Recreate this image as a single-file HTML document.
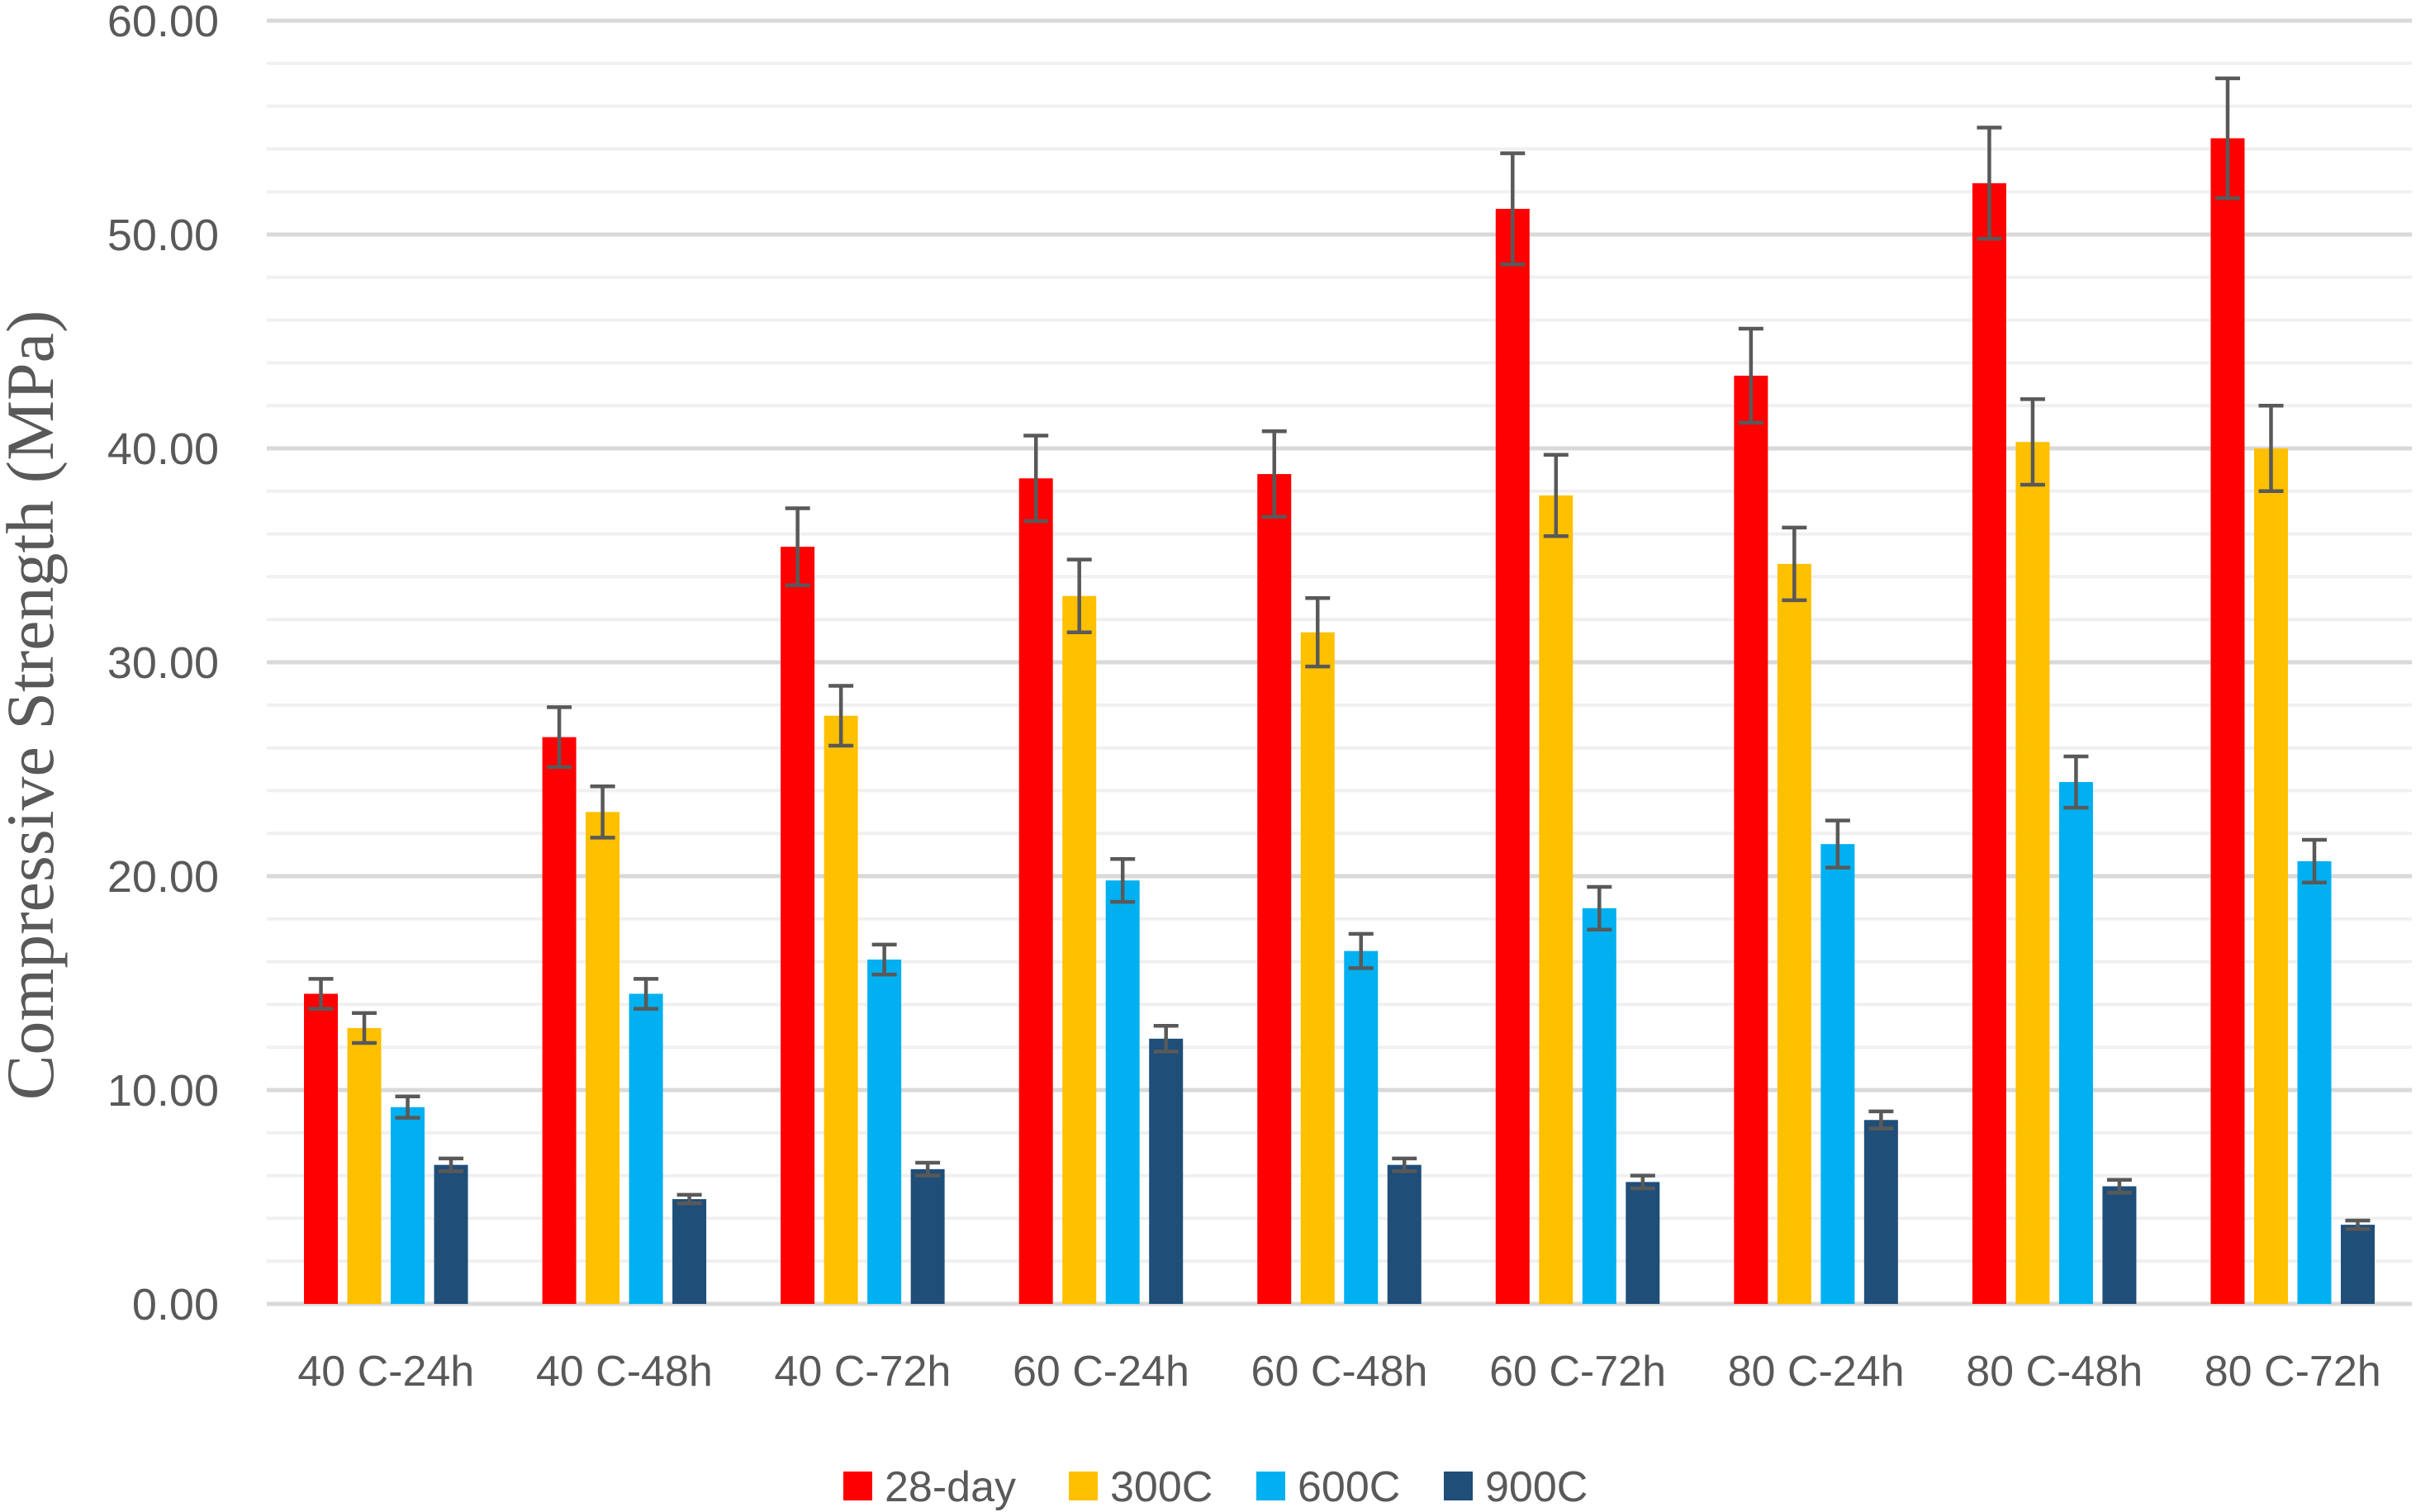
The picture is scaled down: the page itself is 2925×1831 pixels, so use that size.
<!DOCTYPE html>
<html><head><meta charset="utf-8"><style>
html,body{margin:0;padding:0;background:#fff;}
svg{display:block;}
text{font-family:"Liberation Sans",sans-serif;fill:#595959;}
</style></head><body>
<svg id="chart" width="2925" height="1831" viewBox="0 0 2925 1831" xmlns="http://www.w3.org/2000/svg">
<g id="grid"></g>
<g id="yticks"></g>
<g id="bars"></g>
<g id="xticks"></g>
<text transform="translate(64,854) rotate(-90)" text-anchor="middle" style="font-family:'Liberation Serif',serif;font-size:82px;fill:#595959;">Compressive Strength (MPa)</text>
<g id="legend"></g>
</svg>
<script>
const categories = ["40 C-24h","40 C-48h","40 C-72h","60 C-24h","60 C-48h","60 C-72h","80 C-24h","80 C-48h","80 C-72h"];
const seriesNames = ["28-day","300C","600C","900C"];
const day28 = [14.5,26.5,35.4,38.6,38.8,51.2,43.4,52.4,54.5];
const c300 = [12.9,23.0,27.5,33.1,31.4,37.8,34.6,40.3,40.0];
const c600 = [9.2,14.5,16.1,19.8,16.5,18.5,21.5,24.4,20.7];
const c900 = [6.5,4.9,6.3,12.4,6.5,5.7,8.6,5.5,3.7];
const err28 = [0.7,1.4,1.8,2.0,2.0,2.6,2.2,2.6,2.8];
const err300 = [0.7,1.2,1.4,1.7,1.6,1.9,1.7,2.0,2.0];
const err600 = [0.5,0.7,0.7,1.0,0.8,1.0,1.1,1.2,1.0];
const err900 = [0.3,0.2,0.3,0.6,0.3,0.3,0.4,0.3,0.2];
const yTicks = ["0.00","10.00","20.00","30.00","40.00","50.00","60.00"];

const NS="http://www.w3.org/2000/svg";
const colors=["#ff0000","#ffc000","#00b0f0","#1f4e79"];
const series=[day28,c300,c600,c900];
const errs=[err28,err300,err600,err900];
const X0=323,X1=2920,Y0=1579,Y60=25;
function y(v){return Y0-(v/60)*(Y0-Y60);}
const band=(X1-X0)/categories.length;
function xc(i){return X0+band*(i+0.5);}
function mk(tag,attrs,parent){const e=document.createElementNS(NS,tag);for(const k in attrs)e.setAttribute(k,attrs[k]);parent.appendChild(e);return e;}
const grid=document.getElementById('grid');
for(let v=0;v<=60;v+=2){
  const major=v%10===0;
  const l=mk('line',{x1:X0,x2:X1,y1:y(v),y2:y(v),stroke:major?'#d9d9d9':'#f0f0f0','stroke-width':major?5:4},grid);
  
  
}
const yt=document.getElementById('yticks');
yTicks.forEach((t,i)=>{
  const e=mk('text',{x:265,y:y(i*10)+19,'text-anchor':'end','font-size':54},yt);
  e.textContent=t;
  
  
});
const bars=document.getElementById('bars');
const bw=41,pitch=52.5;
categories.forEach((c,i)=>{
  series.forEach((s,j)=>{
    const cx=xc(i)+(j-1.5)*pitch;
    const r=mk('rect',{x:cx-bw/2,y:y(s[i]),width:bw,height:Y0-y(s[i]),fill:colors[j]},bars);
    
    
    const e=errs[j][i];
    const g=mk('g',{stroke:'#595959','stroke-width':4.5},bars);
    
    
    mk('line',{x1:cx,x2:cx,y1:y(s[i]+e),y2:y(s[i]-e)},g);
    mk('line',{x1:cx-15,x2:cx+15,y1:y(s[i]+e),y2:y(s[i]+e)},g);
    mk('line',{x1:cx-15,x2:cx+15,y1:y(s[i]-e),y2:y(s[i]-e)},g);
  });
});
const xt=document.getElementById('xticks');
categories.forEach((c,i)=>{
  const e=mk('text',{x:xc(i),y:1678,'text-anchor':'middle','font-size':52},xt);
  e.textContent=c;
  
  
});
const lg=document.getElementById('legend');
const lx=[1021,1294,1521,1748];
seriesNames.forEach((n,j)=>{
  const g=mk('g',{},lg);
  
  
  mk('rect',{x:lx[j],y:1782,width:35,height:35,fill:colors[j]},g);
  const t=mk('text',{x:lx[j]+50,y:1818,'font-size':52},g);
  t.textContent=n;
});
</script>
</body></html>
